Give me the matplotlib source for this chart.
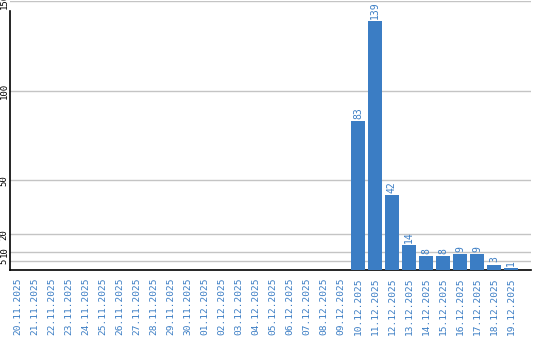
import matplotlib
matplotlib.use("Agg")
import matplotlib.pyplot as plt

dates = ["20.11.2025", "21.11.2025", "22.11.2025", "23.11.2025", "24.11.2025",
         "25.11.2025", "26.11.2025", "27.11.2025", "28.11.2025", "29.11.2025",
         "30.11.2025", "01.12.2025", "02.12.2025", "03.12.2025", "04.12.2025",
         "05.12.2025", "06.12.2025", "07.12.2025", "08.12.2025", "09.12.2025",
         "10.12.2025", "11.12.2025", "12.12.2025", "13.12.2025", "14.12.2025",
         "15.12.2025", "16.12.2025", "17.12.2025", "18.12.2025", "19.12.2025"]
values = [0, 0, 0, 0, 0, 0, 0, 0, 0, 0,
          0, 0, 0, 0, 0, 0, 0, 0, 0, 0,
          83, 139, 42, 14, 8, 8, 9, 9, 3, 1]
yticks = [5, 10, 20, 50, 100, 150]

blue = "#3b7dc4"
mono = "DejaVu Sans Mono"

fig = plt.figure(figsize=(5.4, 3.4), dpi=100)
ax = fig.add_axes([10/540, 70/340, 521/540, 269/340])

x = list(range(len(dates)))
bars = ax.bar(x, values, width=0.82, color=blue, zorder=3)
for xi, v in zip(x, values):
    if v > 0:
        ax.text(xi, v + 1.2, str(v), rotation=90, ha="center", va="bottom",
                color=blue, fontsize=7, family=mono, zorder=4)

ax.set_xlim(-0.47, 30.18)
ax.set_ylim(0, 150)
ax.set_yticks(yticks)
ax.set_yticklabels([str(t) for t in yticks], rotation=90, va="center",
                   family=mono, fontsize=6.5, color="black")
ax.set_xticks(x)
ax.set_xticklabels(dates, rotation=90, family=mono, fontsize=6.8, color=blue)
ax.tick_params(axis="x", length=0, pad=5.5)
ax.tick_params(axis="y", length=0, pad=1.0)

ax.grid(axis="y", color="#c4c4c4", linewidth=1.0, zorder=0)
ax.spines["top"].set_visible(False)
ax.spines["right"].set_visible(False)
ax.spines["left"].set_color("black")
ax.spines["left"].set_linewidth(1.2)
ax.spines["left"].set_bounds(0, 144.5)
ax.spines["bottom"].set_color("black")
ax.spines["bottom"].set_linewidth(1.2)

fig.savefig("out.png", dpi=100)
